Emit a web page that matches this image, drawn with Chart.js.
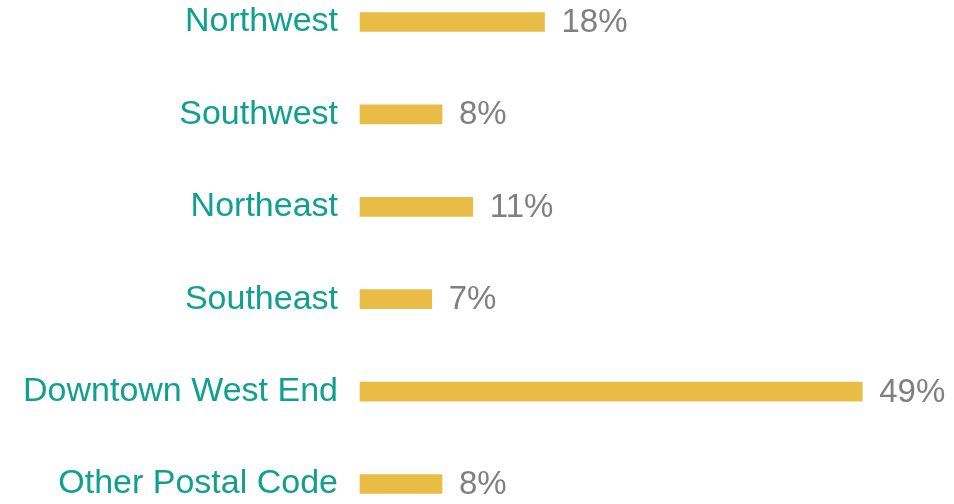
<!DOCTYPE html>
<html>
<head>
<meta charset="utf-8">
<script src="https://cdn.jsdelivr.net/npm/chart.js@4/dist/chart.umd.min.js"></script>
<style>
  html, body { margin: 0; padding: 0; background: #fff; }
  #wrap { width: 954px; height: 504px; }
</style>
</head>
<body>
<div id="wrap"><canvas id="regionChart"></canvas></div>
<script>
const regions = ["Northwest", "Southwest", "Northeast", "Southeast", "Downtown West End", "Other Postal Code"];
const shares = [18, 8, 11, 7, 49, 8];

const valueLabels = {
    id: "valueLabels",
    afterDatasetsDraw(chart) {
        const ctx = chart.ctx;
        const meta = chart.getDatasetMeta(0);
        ctx.save();
        ctx.font = "33px 'Liberation Sans', Arial, sans-serif";
        ctx.fillStyle = "#808080";
        ctx.textAlign = "left";
        ctx.textBaseline = "middle";
        meta.data.forEach((bar, i) => {
            ctx.fillText(shares[i] + "%", bar.x + 17, bar.y + 1);
        });
        ctx.restore();
    }
};

const ctx = document.getElementById("regionChart").getContext("2d");
new Chart(ctx, {
    type: "bar",
    data: {
        labels: regions,
        datasets: [
            {
                data: shares,
                backgroundColor: "#E9BC46",
                borderWidth: 0,
                barThickness: 19,
                clip: false,
            },
        ],
    },
    options: {
        indexAxis: "y",
        responsive: true,
        maintainAspectRatio: false,
        animation: false,
        layout: {
            padding: { top: 22, bottom: 20, left: 0, right: 20 },
        },
        plugins: {
            legend: { display: false },
            tooltip: { enabled: false },
        },
        scales: {
            x: {
                display: false,
                min: 0,
                max: 56,
            },
            y: {
                offset: false,
                grid: { display: false, drawTicks: false },
                border: { display: false },
                afterFit: (scale) => {
                    scale.width = 360;
                    scale.paddingTop = 0;
                    scale.paddingBottom = 0;
                },
                ticks: {
                    padding: 22,
                    color: "#0FA08E",
                    font: { family: "'Liberation Sans', Arial, sans-serif", size: 34 },
                },
            },
        },
    },
    plugins: [valueLabels],
});
</script>
</body>
</html>
